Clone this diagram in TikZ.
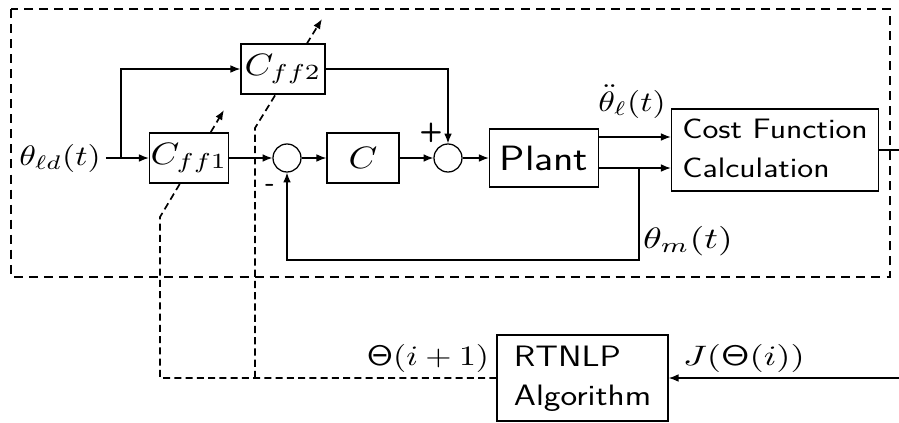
\documentclass[tikz,border=0pt]{standalone}
\usetikzlibrary{arrows.meta,backgrounds}
\newcommand{\hstr}[1]{\scalebox{1.2}[1]{#1}}
\newcommand{\mstr}[1]{\scalebox{2.4}[2]{#1}}
\newcommand{\cstr}[1]{\scalebox{2.6}[2.2]{#1}}
\begin{document}
\begin{tikzpicture}[x=0.025cm,y=-0.025cm,line width=0.9pt,
  >={Latex[length=7pt,width=5.5pt]},
  blk/.style={draw,line width=1pt,fill=white,inner sep=0pt,font=\sffamily\fontsize{21}{28}\selectfont},
  mblk/.style={blk,font=\normalsize},
  sum/.style={draw,circle,fill=white,minimum size=0.7cm,inner sep=0pt},
  lbl/.style={font=\normalsize},
  sgn/.style={font=\sffamily\bfseries\fontsize{19}{28}\selectfont,inner sep=0pt},
  param/.style={->,dash pattern=on 5pt off 3pt,line width=1.2pt},
  outerbox/.style={dash pattern=on 6.4pt off 4.3pt,line width=1.6pt}]
 \useasboundingbox (0,0) rectangle (899,422);
 \draw[outerbox] (11,9) rectangle (890,277);
 \node[lbl] (thld) at (60,158) {\mstr{$\theta_{\ell d}(t)$}};
 \node[mblk,minimum width=1.975cm,minimum height=1.25cm] (cff1) at (189,158) {\cstr{$C_{ff1}$}};
 \node[mblk,minimum width=2.1cm,minimum height=1.25cm] (cff2) at (283,69) {\cstr{$C_{ff2}$}};
 \node[sum] (s1) at (287,158) {};
 \node[mblk,minimum width=1.8cm,minimum height=1.25cm] (cb) at (363,158) {\cstr{$C$}};
 \node[sum] (s2) at (448,158) {};
 \node[blk,minimum width=2.725cm,minimum height=1.45cm,font=\sffamily\fontsize{25}{28}\selectfont] (plant) at (544,158) {\hstr{Plant}};
 \node[blk,minimum width=5.175cm,minimum height=2.05cm,font=\sffamily\fontsize{20}{28}\selectfont] (cost) at (775,150)
   {\hstr{\begin{tabular}{@{}l@{}}Cost Function\\Calculation\end{tabular}}};
 \node[blk,minimum width=4.275cm,minimum height=2.15cm] (algo) at (582.5,378)
   {\hstr{\begin{tabular}{@{}l@{}}RTNLP\\Algorithm\end{tabular}}};
 \node[lbl,anchor=base] (acc) at (632,111) {\mstr{$\ddot\theta_\ell(t)$}};
 \node[lbl,anchor=base] (thm) at (688,248) {\scalebox{2.7}[2.1]{$\theta_m(t)$}};
 \node[lbl,anchor=base] (thn) at (428,365) {\mstr{$\mathsf{\Theta}(i+1)$}};
 \node[lbl,anchor=base] (jth) at (744,365) {\scalebox{2.6}[2]{$J(\mathsf{\Theta}(i))$}};
 \node[sgn] (plus) at (431,133) {+};
 \node[sgn] (minus) at (270,188) {-};
 \coordinate (br) at (121,158);
 \coordinate (fb) at (639,260);
 \coordinate (jout) at (899,150);
 \coordinate (jin) at (899,378);
 \coordinate (k1) at (160,217); \coordinate (t1) at (224,110);
 \coordinate (k2) at (255,128); \coordinate (t2) at (322,19);
 \draw[->] (thld) -- (cff1);
 \draw[->] (br) |- (cff2);
 \draw[->] (cff1) -- (s1);
 \draw[->] (s1) -- (cb);
 \draw[->] (cb) -- (s2);
 \draw[->] (s2) -- (plant);
 \draw[->] (cff2) -| (s2);
 \draw[->] ([yshift=0.525cm]plant.east) coordinate (p1) -- (p1 -| cost.west);
 \draw[->] ([yshift=-0.25cm]plant.east) coordinate (p2) -- (p2 -| cost.west);
 \draw[->] (p2 -| fb) -- (fb) -| (s1);
 \draw (cost) -- (jout);
 \draw[->] (jin) -- (algo);
 \begin{scope}[on background layer]
  \draw[param] (algo.west) -- (k1 |- algo.west) -- (k1) -- (t1);
  \draw[param] (k2 |- algo.west) -- (k2) -- (t2);
 \end{scope}
\end{tikzpicture}
\end{document}
